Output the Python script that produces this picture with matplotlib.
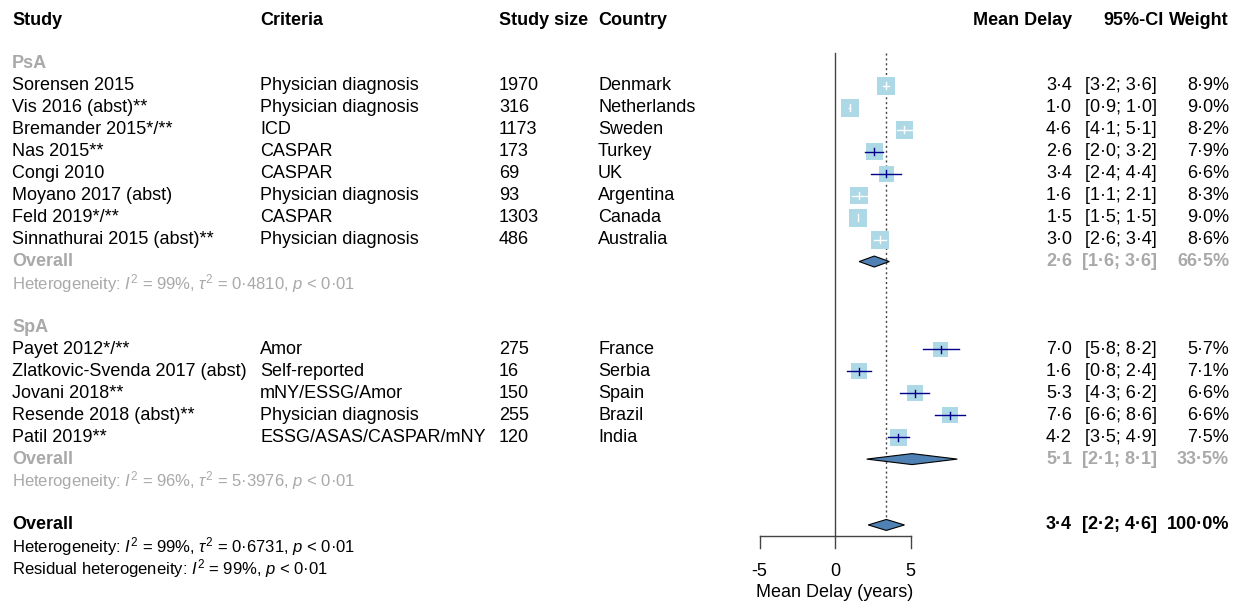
import matplotlib
matplotlib.use("Agg")
import matplotlib.pyplot as plt
import matplotlib.transforms as mtransforms
from matplotlib.patches import Rectangle, Polygon

plt.rcParams['font.family'] = ['Liberation Sans', 'DejaVu Sans']
plt.rcParams['mathtext.fontset'] = 'custom'
plt.rcParams['mathtext.rm'] = 'Liberation Sans'
plt.rcParams['mathtext.it'] = 'Liberation Sans:italic'

# data
psa_study = ["Sorensen 2015", "Vis 2016 (abst)**", "Bremander 2015*/**", "Nas 2015**",
             "Congi 2010", "Moyano 2017 (abst)", "Feld 2019*/**", "Sinnathurai 2015 (abst)**"]
psa_criteria = ["Physician diagnosis", "Physician diagnosis", "ICD", "CASPAR",
                "CASPAR", "Physician diagnosis", "CASPAR", "Physician diagnosis"]
psa_size = [1970, 316, 1173, 173, 69, 93, 1303, 486]
psa_country = ["Denmark", "Netherlands", "Sweden", "Turkey", "UK", "Argentina", "Canada", "Australia"]
psa_mean = [3.4, 1.0, 4.6, 2.6, 3.4, 1.6, 1.5, 3.0]
psa_lo = [3.2, 0.9, 4.1, 2.0, 2.4, 1.1, 1.5, 2.6]
psa_hi = [3.6, 1.0, 5.1, 3.2, 4.4, 2.1, 1.5, 3.4]
psa_weight = [8.9, 9.0, 8.2, 7.9, 6.6, 8.3, 9.0, 8.6]
psa_overall = (2.6, 1.6, 3.6, 66.5)
psa_het = r"Heterogeneity: $I^2$ = 99%, $\tau^2$ = 0·4810, $p$ < 0·01"

spa_study = ["Payet 2012*/**", "Zlatkovic-Svenda 2017 (abst)", "Jovani 2018**",
             "Resende 2018 (abst)**", "Patil 2019**"]
spa_criteria = ["Amor", "Self-reported", "mNY/ESSG/Amor", "Physician diagnosis", "ESSG/ASAS/CASPAR/mNY"]
spa_size = [275, 16, 150, 255, 120]
spa_country = ["France", "Serbia", "Spain", "Brazil", "India"]
spa_mean = [7.0, 1.6, 5.3, 7.6, 4.2]
spa_lo = [5.8, 0.8, 4.3, 6.6, 3.5]
spa_hi = [8.2, 2.4, 6.2, 8.6, 4.9]
spa_weight = [5.7, 7.1, 6.6, 6.6, 7.5]
spa_overall = (5.1, 2.1, 8.1, 33.5)
spa_het = r"Heterogeneity: $I^2$ = 96%, $\tau^2$ = 5·3976, $p$ < 0·01"

all_overall = (3.4, 2.2, 4.6, 100.0)
all_het = r"Heterogeneity: $I^2$ = 99%, $\tau^2$ = 0·6731, $p$ < 0·01"
resid_het = r"Residual heterogeneity: $I^2$ = 99%, $p$ < 0·01"

xticks = [-5, 0, 5]

GREY = "#a9a9a9"
SQ = "#add8e6"
DIA = "#4f81b4"
LINE = "#00008b"
FS = 13
FS_HET = 12

W, H = 1240, 603
fig = plt.figure(figsize=(W / 100, H / 100), dpi=100)
# forest panel, x in years, y in rows
ax = fig.add_axes([740 / W, 0, 250 / W, 1])
px_per_x = 15.1
px_per_row = 21.95
ax.set_xlim((740 - 835) / px_per_x, (990 - 835) / px_per_x)
ax.set_ylim(2 + (603 - 64) / px_per_row, 2 - 64 / px_per_row)
ax.axis('off')

tr = mtransforms.blended_transform_factory(fig.transFigure, ax.transData)


def fx(px):
    return px / W


def fmt(v):
    return f"{v:.1f}".replace(".", "·")


def txt(px, row, s, ha='left', **kw):
    kw.setdefault('fontsize', FS)
    ax.text(fx(px), row, s, transform=tr, ha=ha, va='center', **kw)


def right_cols(row, m, lo, hi, w, **kw):
    txt(1072, row, fmt(m), ha='right', **kw)
    txt(1157, row, f"[{fmt(lo)}; {fmt(hi)}]", ha='right', **kw)
    txt(1229, row, f"{fmt(w)}%", ha='right', **kw)


def diamond(row, m, lo, hi):
    h = 0.25
    ax.add_patch(Polygon([(lo, row), (m, row - h), (hi, row), (m, row + h)],
                         closed=True, facecolor=DIA, edgecolor='black', lw=0.8, zorder=4))


def study(row, name, crit, size, country, m, lo, hi, w):
    txt(12, row, name)
    txt(260, row, crit)
    txt(499, row, str(size))
    txt(598, row, country)
    right_cols(row, m, lo, hi, w)
    side = 6.1 * w ** 0.5
    sw = side / px_per_x
    sh = side / px_per_row
    ax.add_patch(Rectangle((m - sw / 2, row - sh / 2), sw, sh, facecolor=SQ,
                           edgecolor='none', zorder=3))
    col = 'white' if (hi - lo) < sw else LINE
    ax.plot([lo, hi], [row, row], color=col, lw=1.0, zorder=5)
    ax.plot([m, m], [row - 0.16, row + 0.16], color=col, lw=1.0, zorder=5)


# header
for px, s in [(12, "Study"), (260, "Criteria"), (499, "Study size"), (598, "Country")]:
    txt(px, 0, s, fontweight='bold')
txt(1072, 0, "Mean Delay", ha='right', fontweight='bold')
txt(1164, 0, "95%-CI", ha='right', fontweight='bold')
txt(1229, 0, "Weight", ha='right', fontweight='bold')

# PsA
txt(12, 2, "PsA", color=GREY, fontweight='bold')
for i in range(len(psa_study)):
    study(3 + i, psa_study[i], psa_criteria[i], psa_size[i], psa_country[i],
          psa_mean[i], psa_lo[i], psa_hi[i], psa_weight[i])
txt(12, 11, "Overall", color=GREY, fontweight='bold')
right_cols(11, *psa_overall, color=GREY, fontweight='bold')
diamond(11, *psa_overall[:3])
txt(12, 12, psa_het, color=GREY, fontsize=FS_HET)

# SpA
txt(12, 14, "SpA", color=GREY, fontweight='bold')
for i in range(len(spa_study)):
    study(15 + i, spa_study[i], spa_criteria[i], spa_size[i], spa_country[i],
          spa_mean[i], spa_lo[i], spa_hi[i], spa_weight[i])
txt(12, 20, "Overall", color=GREY, fontweight='bold')
right_cols(20, *spa_overall, color=GREY, fontweight='bold')
diamond(20, *spa_overall[:3])
txt(12, 21, spa_het, color=GREY, fontsize=FS_HET)

# overall
txt(12, 23, "Overall", fontweight='bold')
right_cols(23, *all_overall, fontweight='bold')
diamond(23, *all_overall[:3])
txt(12, 24, all_het, fontsize=FS_HET)
txt(12, 25, resid_het, fontsize=FS_HET)

# reference lines
ax.plot([0, 0], [1.5, 23.5], color='#444444', lw=1.0, zorder=2)
ax.plot([all_overall[0]] * 2, [1.5, 22.75], color='#444444', lw=1.0, ls=(0, (1.5, 2)), zorder=2)

# x axis
ax.plot([xticks[0], xticks[-1]], [23.5, 23.5], color='#444444', lw=1.0)
for t in xticks:
    ax.plot([t, t], [23.5, 24.05], color='#444444', lw=1.0)
    ax.text(t, 25.1, str(t), ha='center', va='center', fontsize=FS)
ax.text(0, 26.1, "Mean Delay (years)", ha='center', va='center', fontsize=FS)

fig.savefig("out.png", dpi=100)
